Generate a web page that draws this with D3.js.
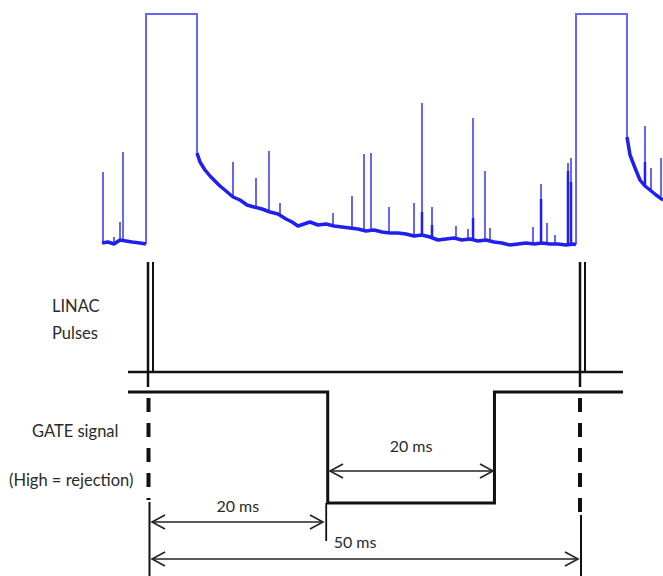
<!DOCTYPE html>
<html>
<head>
<meta charset="utf-8">
<script src="https://cdn.jsdelivr.net/npm/d3@7"></script>
<style>
  body { margin: 0; background: #fff; }
  svg { display: block; }
  text { font-family: Lato, "Open Sans", sans-serif; fill: #2a2a2a; }
</style>
</head>
<body>
<script>
var width = 663,
  height = 576;

// time in ms (LINAC pulse at 0 and 50), signal in arbitrary units
var linacPulses = [0, 50];
var pulseOn = [-0.23, 49.54];
var pulseOff = [5.67, 55.44];
var pulseFoot = [18, 18];
var pulseDrop = [109, 125];
var pulseTop = 248;

// noisy detector trace
var traceBefore = [[-5.32, 19], [-4.63, 20], [-3.94, 18], [-3.24, 22], [-2.55, 21], [-1.85, 20], [-0.93, 19], [-0.23, 18]];
var traceMain = [[5.67, 109], [6.02, 100], [6.6, 92], [7.18, 86], [7.75, 81], [8.33, 76], [9.03, 71], [9.84, 65], [10.65, 62],
  [11.46, 57], [12.27, 55], [13.19, 53], [14.12, 50], [15.05, 48], [15.97, 43], [16.67, 40], [17.36, 36], [18.06, 38],
  [18.75, 40], [19.68, 37], [20.6, 38], [21.53, 36], [22.45, 35], [23.38, 34], [24.3, 33], [25.23, 31], [26.16, 32],
  [27.08, 30], [28.0, 29], [28.94, 29], [29.86, 28], [30.79, 26], [31.71, 27], [32.64, 25], [33.56, 22], [34.49, 23],
  [35.42, 24], [36.34, 22], [37.27, 23], [38.19, 21], [39.12, 22], [40.05, 20], [40.97, 19], [41.9, 17], [42.82, 18],
  [43.75, 19], [44.68, 18], [45.6, 19], [46.53, 18], [47.45, 18], [48.38, 17], [49.31, 18], [49.54, 17]];
var traceAfter = [[55.44, 125], [55.79, 107], [56.37, 94], [56.94, 82], [57.52, 76], [58.1, 72], [58.8, 67], [59.61, 62]];

// spikes on the trace
var spikeT = [-5.21, -3.94, -3.24, -2.89, 9.84, 12.5, 14.0, 15.28, 21.41, 23.61, 25.0, 25.81, 27.89, 30.79, 31.71, 32.87,
  35.65, 37.04, 37.62, 39.0, 39.58, 44.56, 45.49, 46.18, 47.11, 48.61, 48.96, 57.52, 58.22, 59.38];
var spikeTop = [90, 25, 40, 110, 100, 84, 111, 59, 49, 66, 108, 109, 55, 59, 159, 55,
  36, 33, 144, 91, 34, 35, 78, 39, 27, 99, 104, 136, 94, 104];
var spikeBase = [19, 19, 21, 21, 65, 55, 51, 48, 36, 34, 32, 32, 29, 26, 27, 25,
  24, 23, 22, 22, 21, 18, 19, 18, 18, 17, 17, 77, 72, 66];
// darker lower parts of some spikes
var darkT = [31.71, 32.87, 37.62, 45.49, 48.61, 48.96, 57.52];
var darkTop = [50, 37, 44, 63, 91, 80, 100];
var darkBase = [27, 25, 22, 19, 17, 17, 77];

// gate signal (low = acceptance window)
var gateLow = [20.8, 40.1];

// labels
var leftLabels = ["LINAC", "Pulses", "GATE signal", "(High = rejection)"];
var spanLabels = ["20 ms", "20 ms", "50 ms"];
var spans = [[20.8, 40.1], [0, 20.8], [0, 50]];

var svg = d3.select("body").append("svg")
  .attr("width", width)
  .attr("height", height);

var x = d3.scaleLinear().domain([0, 50]).range([148, 580]);
var y = d3.scaleLinear().domain([0, 250]).range([262, 12]);

var light = "#6666f0",
  dark = "#2020ee",
  ink = "#111";

// ---- detector signal ----
var line = d3.line().x(function (d) { return x(d[0]); }).y(function (d) { return y(d[1]); });

// pulse outlines
pulseOn.forEach(function (t, i) {
  svg.append("path")
    .attr("d", line([[t, pulseFoot[i]], [t, pulseTop], [pulseOff[i], pulseTop], [pulseOff[i], pulseDrop[i]]]))
    .attr("fill", "none")
    .attr("stroke", light)
    .attr("stroke-width", 2);
});

// spikes
svg.append("g").selectAll("line")
  .data(spikeT)
  .enter().append("line")
  .attr("x1", function (d) { return x(d); })
  .attr("x2", function (d) { return x(d); })
  .attr("y1", function (d, i) { return y(spikeBase[i]); })
  .attr("y2", function (d, i) { return y(spikeTop[i]); })
  .attr("stroke", light)
  .attr("stroke-width", 2);

svg.append("g").selectAll("line")
  .data(darkT)
  .enter().append("line")
  .attr("x1", function (d) { return x(d); })
  .attr("x2", function (d) { return x(d); })
  .attr("y1", function (d, i) { return y(darkBase[i]); })
  .attr("y2", function (d, i) { return y(darkTop[i]); })
  .attr("stroke", dark)
  .attr("stroke-width", 2.5);

[traceBefore, traceMain, traceAfter].forEach(function (tr) {
  svg.append("path")
    .attr("d", line(tr))
    .attr("fill", "none")
    .attr("stroke", dark)
    .attr("stroke-width", 3.5)
    .attr("stroke-linejoin", "round");
});

// ---- LINAC pulses ----
var yLinacTop = 262, yLinacBase = 372, yGateHigh = 392, yGateLow = 503;

linacPulses.forEach(function (t) {
  var px = x(t);
  svg.append("line").attr("x1", px).attr("x2", px).attr("y1", yLinacTop).attr("y2", 387)
    .attr("stroke", ink).attr("stroke-width", 2.5);
  svg.append("line").attr("x1", px + 5).attr("x2", px + 5).attr("y1", yLinacTop).attr("y2", yLinacBase)
    .attr("stroke", ink).attr("stroke-width", 2);
});

svg.append("line")
  .attr("x1", 128).attr("x2", 623).attr("y1", yLinacBase).attr("y2", yLinacBase)
  .attr("stroke", ink).attr("stroke-width", 2.5);

// ---- gate signal ----
svg.append("path")
  .attr("d", "M128," + yGateHigh +
    "H" + x(gateLow[0]) + "V" + yGateLow +
    "H" + x(gateLow[1]) + "V" + yGateHigh + "H623")
  .attr("fill", "none")
  .attr("stroke", ink)
  .attr("stroke-width", 3);

// continuation of gate edge as marker
svg.append("line")
  .attr("x1", x(gateLow[0]) - 1.5).attr("x2", x(gateLow[0]) - 1.5)
  .attr("y1", yGateLow).attr("y2", 541)
  .attr("stroke", ink).attr("stroke-width", 1.8);

// dashed markers at the LINAC pulses
var dashEnd = [500, 513];
linacPulses.forEach(function (t, i) {
  var px = x(t) + (i == 0 ? 0.5 : 0);
  svg.append("line").attr("x1", px).attr("x2", px).attr("y1", 398).attr("y2", dashEnd[i])
    .attr("stroke", ink).attr("stroke-width", 4).attr("stroke-dasharray", "14,11");
  svg.append("line").attr("x1", px + 1).attr("x2", px + 1).attr("y1", dashEnd[i] + 2).attr("y2", height)
    .attr("stroke", ink).attr("stroke-width", 2);
});

// ---- dimension arrows ----
var arrowY = [471, 522, 559];
var labelY = [452, 512, 548];
var arrowEnds = [[330, 493], [152, 323], [152, 578]];

function arrow(x0, x1, yy) {
  var g = svg.append("g").attr("fill", "none").attr("stroke", "#222").attr("stroke-width", 1.6);
  g.append("line").attr("x1", x0).attr("x2", x1).attr("y1", yy).attr("y2", yy);
  g.append("path").attr("d", "M" + (x0 + 13) + "," + (yy - 7) + "L" + x0 + "," + yy + "L" + (x0 + 13) + "," + (yy + 7));
  g.append("path").attr("d", "M" + (x1 - 13) + "," + (yy - 7) + "L" + x1 + "," + yy + "L" + (x1 - 13) + "," + (yy + 7));
}

spans.forEach(function (s, i) {
  arrow(arrowEnds[i][0], arrowEnds[i][1], arrowY[i]);
  svg.append("text")
    .attr("x", (x(s[0]) + x(s[1])) / 2 + (i == 2 ? -9 : 0))
    .attr("y", labelY[i])
    .attr("text-anchor", "middle")
    .style("font-size", "16px")
    .text(spanLabels[i]);
});

// ---- row labels ----
var leftX = [52, 52, 32, 9];
var leftY = [312, 339, 437, 486];
leftLabels.forEach(function (l, i) {
  svg.append("text")
    .attr("x", leftX[i])
    .attr("y", leftY[i])
    .style("font-size", "16.5px")
    .text(l);
});
</script>
</body>
</html>
